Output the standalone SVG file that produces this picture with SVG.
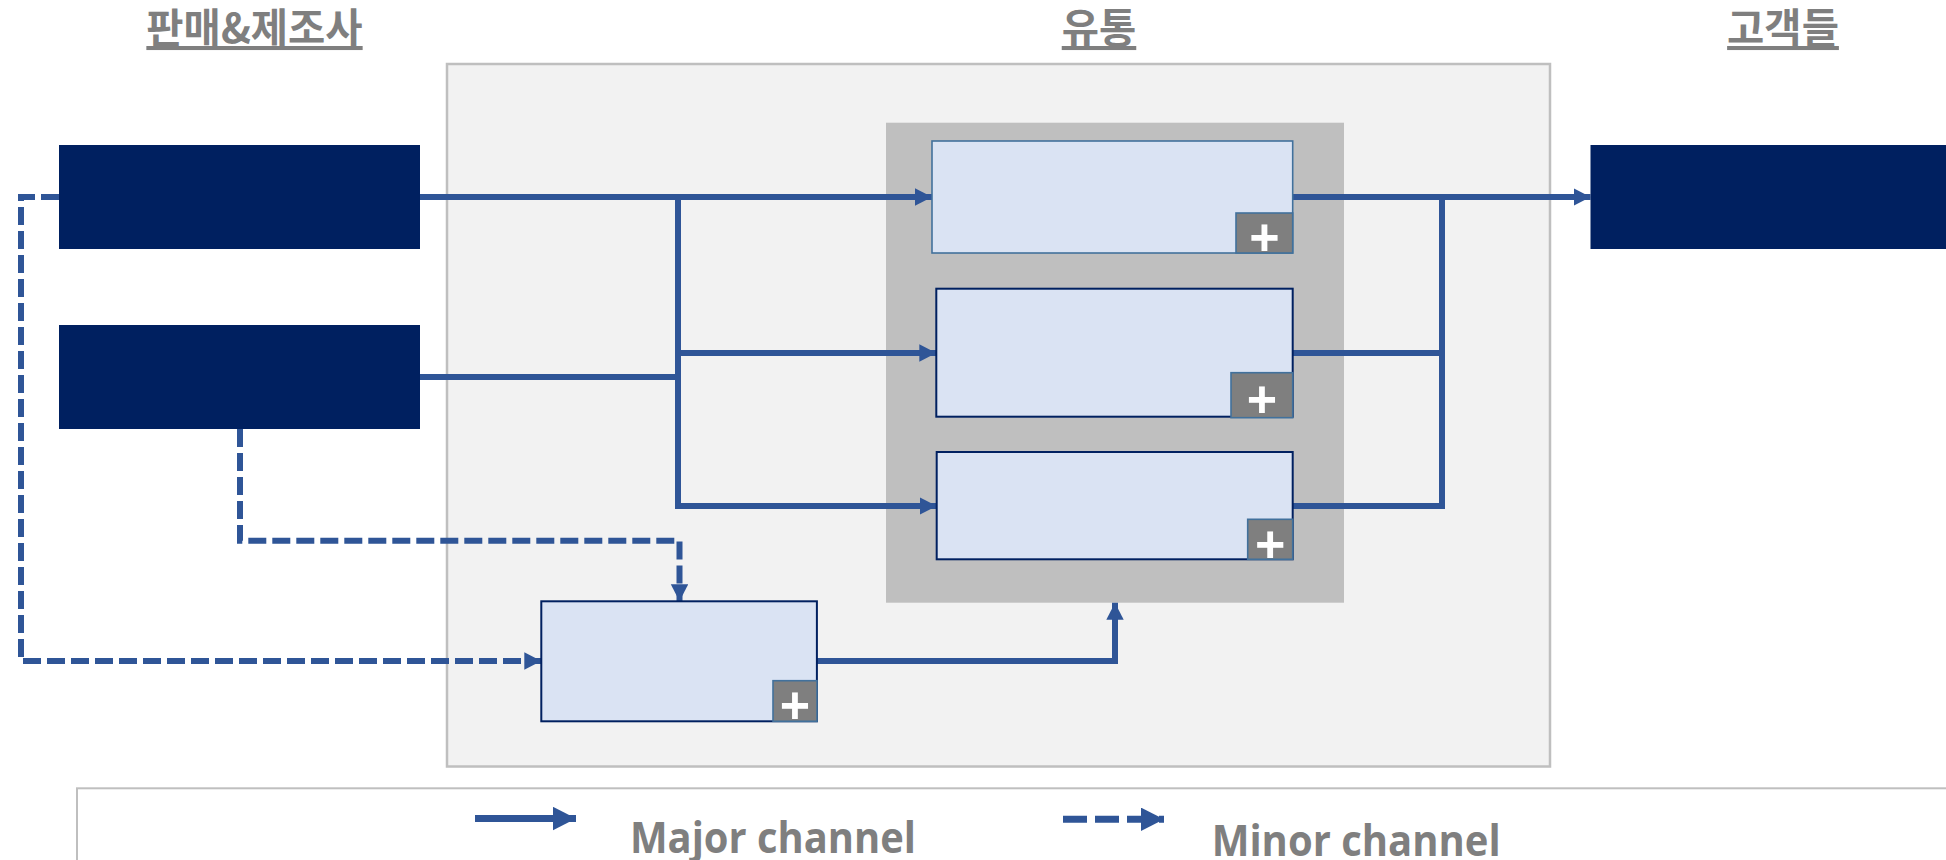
<svg xmlns="http://www.w3.org/2000/svg" width="1946" height="860" viewBox="0 0 1946 860">
<style>
.title{font-family:"Noto Sans CJK KR","Noto Sans",sans-serif;font-size:40.5px;font-weight:bold;fill:#7f7f7f;text-anchor:middle;text-decoration:underline;}
.dark{fill:#002060;}
.node{fill:#dae3f3;stroke:#002060;stroke-width:2;}
.nodeA{fill:#dae3f3;stroke:#41719c;stroke-width:1.6;}
.badge{fill:#7f7f7f;stroke:#41719c;stroke-width:1.6;}
.plus{font-family:"Liberation Sans",Arial,sans-serif;font-size:52px;font-weight:bold;fill:#ffffff;text-anchor:middle;}
.major{fill:none;stroke:#2f5597;stroke-width:6;}
.minor{fill:none;stroke:#2f5597;stroke-width:6;stroke-dasharray:18 6;}
.legtext{font-family:"Open Sans","Noto Sans",sans-serif;font-size:43px;font-weight:bold;fill:#7f7f7f;}
</style>
<defs>
<marker id="arr" markerUnits="userSpaceOnUse" markerWidth="18" markerHeight="18" refX="17" refY="8.7" orient="auto">
<path d="M0,0 L17,8.7 L0,17.4 z" fill="#2f5597"/>
</marker>
<marker id="arrL" markerUnits="userSpaceOnUse" markerWidth="24" markerHeight="24" refX="23" refY="11.7" orient="auto">
<path d="M0,0 L23,11.7 L0,23.4 z" fill="#2f5597"/>
</marker>
</defs>
<rect width="1946" height="860" fill="#ffffff"/>

<g id="titles">
<text class="title" x="254.5" y="43">판매&amp;제조사</text>
<text class="title" x="1099" y="43">유통</text>
<text class="title" x="1783" y="43">고객들</text>
</g>

<g id="distribution-area">
<rect x="447" y="64" width="1103" height="702.5" fill="#f2f2f2" stroke="#bfbfbf" stroke-width="2.5"/>
<rect x="886" y="122.7" width="458" height="480" fill="#bfbfbf"/>
</g>

<g id="connectors">
<path class="major" d="M420,197 H932" marker-end="url(#arr)"/>
<path class="major" d="M678,197 V506 H936.7" marker-end="url(#arr)"/>
<path class="major" d="M678,353 H936.3" marker-end="url(#arr)"/>
<path class="major" d="M420,377 H678"/>
<path class="major" d="M1292.7,197 H1590.5" marker-end="url(#arr)"/>
<path class="major" d="M1292.7,353 H1442"/>
<path class="major" d="M1292.7,506 H1442 V197"/>
<path class="major" d="M817,661 H1115 V602.7" marker-end="url(#arr)"/>
<path class="minor" d="M59,197 H21 V661 H541.3" marker-end="url(#arr)"/>
<path class="minor" d="M240,429 V540.7 H679.5 V601.3" marker-end="url(#arr)"/>
</g>

<g id="seller1"><rect class="dark" x="59" y="145" width="361" height="104"/></g>
<g id="seller2"><rect class="dark" x="59" y="325" width="361" height="104"/></g>
<g id="customers"><rect class="dark" x="1590.5" y="145" width="360" height="104"/></g>

<g id="channelA">
<rect class="nodeA" x="932" y="141" width="360.7" height="112"/>
<rect class="badge" x="1236" y="213" width="56.7" height="40"/>
<text class="plus" x="1264.4" y="255">+</text>
</g>
<g id="channelB">
<rect class="node" x="936.3" y="288.7" width="356.4" height="128"/>
<rect class="badge" x="1231" y="372.7" width="61.7" height="45"/>
<text class="plus" x="1262" y="417">+</text>
</g>
<g id="channelC">
<rect class="node" x="936.7" y="452" width="356" height="107.3"/>
<rect class="badge" x="1247.7" y="519.3" width="45" height="40"/>
<text class="plus" x="1270.2" y="561.5">+</text>
</g>
<g id="channelD">
<rect class="node" x="541.3" y="601.3" width="275.6" height="120"/>
<rect class="badge" x="773" y="680.7" width="44" height="40.6"/>
<text class="plus" x="795" y="723">+</text>
</g>

<g id="legend">
<rect x="77" y="788.3" width="1900" height="100" fill="#ffffff" stroke="#bfbfbf" stroke-width="2"/>
<path d="M475,818.5 H576" stroke="#2f5597" stroke-width="7" fill="none" marker-end="url(#arrL)"/>
<text class="legtext" x="630" y="853" textLength="286" lengthAdjust="spacingAndGlyphs">Major channel</text>
<path d="M1063,819.3 H1164" stroke="#2f5597" stroke-width="7" stroke-dasharray="24 8" fill="none" marker-end="url(#arrL)"/>
<text class="legtext" x="1211.7" y="856" textLength="289" lengthAdjust="spacingAndGlyphs">Minor channel</text>
</g>
</svg>
